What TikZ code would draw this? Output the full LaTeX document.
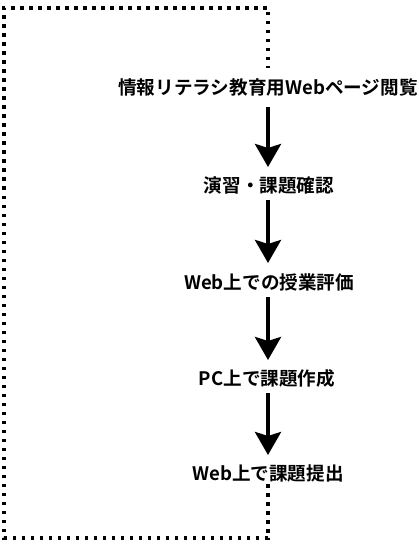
\documentclass[tikz,border=0pt]{standalone}
\usepackage{fontspec}
\setmainfont{Noto Sans CJK JP}[BoldFont={* Bold}]
\usetikzlibrary{arrows.meta}
\tikzset{
  label/.style={font=\fontsize{18.6}{22}\selectfont\bfseries, inner sep=0pt, anchor=center},
  flow/.style={line width=4pt, -{Stealth[width=26pt,length=23pt,inset=4pt]}},
  loop/.style={line width=3.5pt, dash pattern=on 3.5pt off 5.5pt}
}
\begin{document}
\begin{tikzpicture}[x=1pt,y=-1pt]
\useasboundingbox (0,0) rectangle (419,545);
\node[label] (t1) at (268,87) {情報リテラシ教育用Webページ閲覧};
\node[label] (t2) at (269,185) {演習・課題確認};
\node[label] (t3) at (269,282) {Web上での授業評価};
\node[label] (t4) at (267,378) {PC上で課題作成};
\node[label] (t5) at (268,473) {Web上で課題提出};
\coordinate (a1s) at (268,107); \coordinate (a1e) at (268,167);
\coordinate (a2s) at (268,200); \coordinate (a2e) at (268,263);
\coordinate (a3s) at (268,297); \coordinate (a3e) at (268,360);
\coordinate (a4s) at (268,393); \coordinate (a4e) at (268,455);
\draw[flow] (a1s) -- (a1e);
\draw[flow] (a2s) -- (a2e);
\draw[flow] (a3s) -- (a3e);
\draw[flow] (a4s) -- (a4e);
\coordinate (l1) at (268,484);
\coordinate (l2) at (268,538);
\coordinate (l3) at (4,538);
\coordinate (l4) at (4,8);
\coordinate (l5) at (268,8);
\coordinate (l6) at (268,68);
\draw[loop] (l1) -- (l2) -- (l3) -- (l4) -- (l5) -- (l6);
\end{tikzpicture}
\end{document}
